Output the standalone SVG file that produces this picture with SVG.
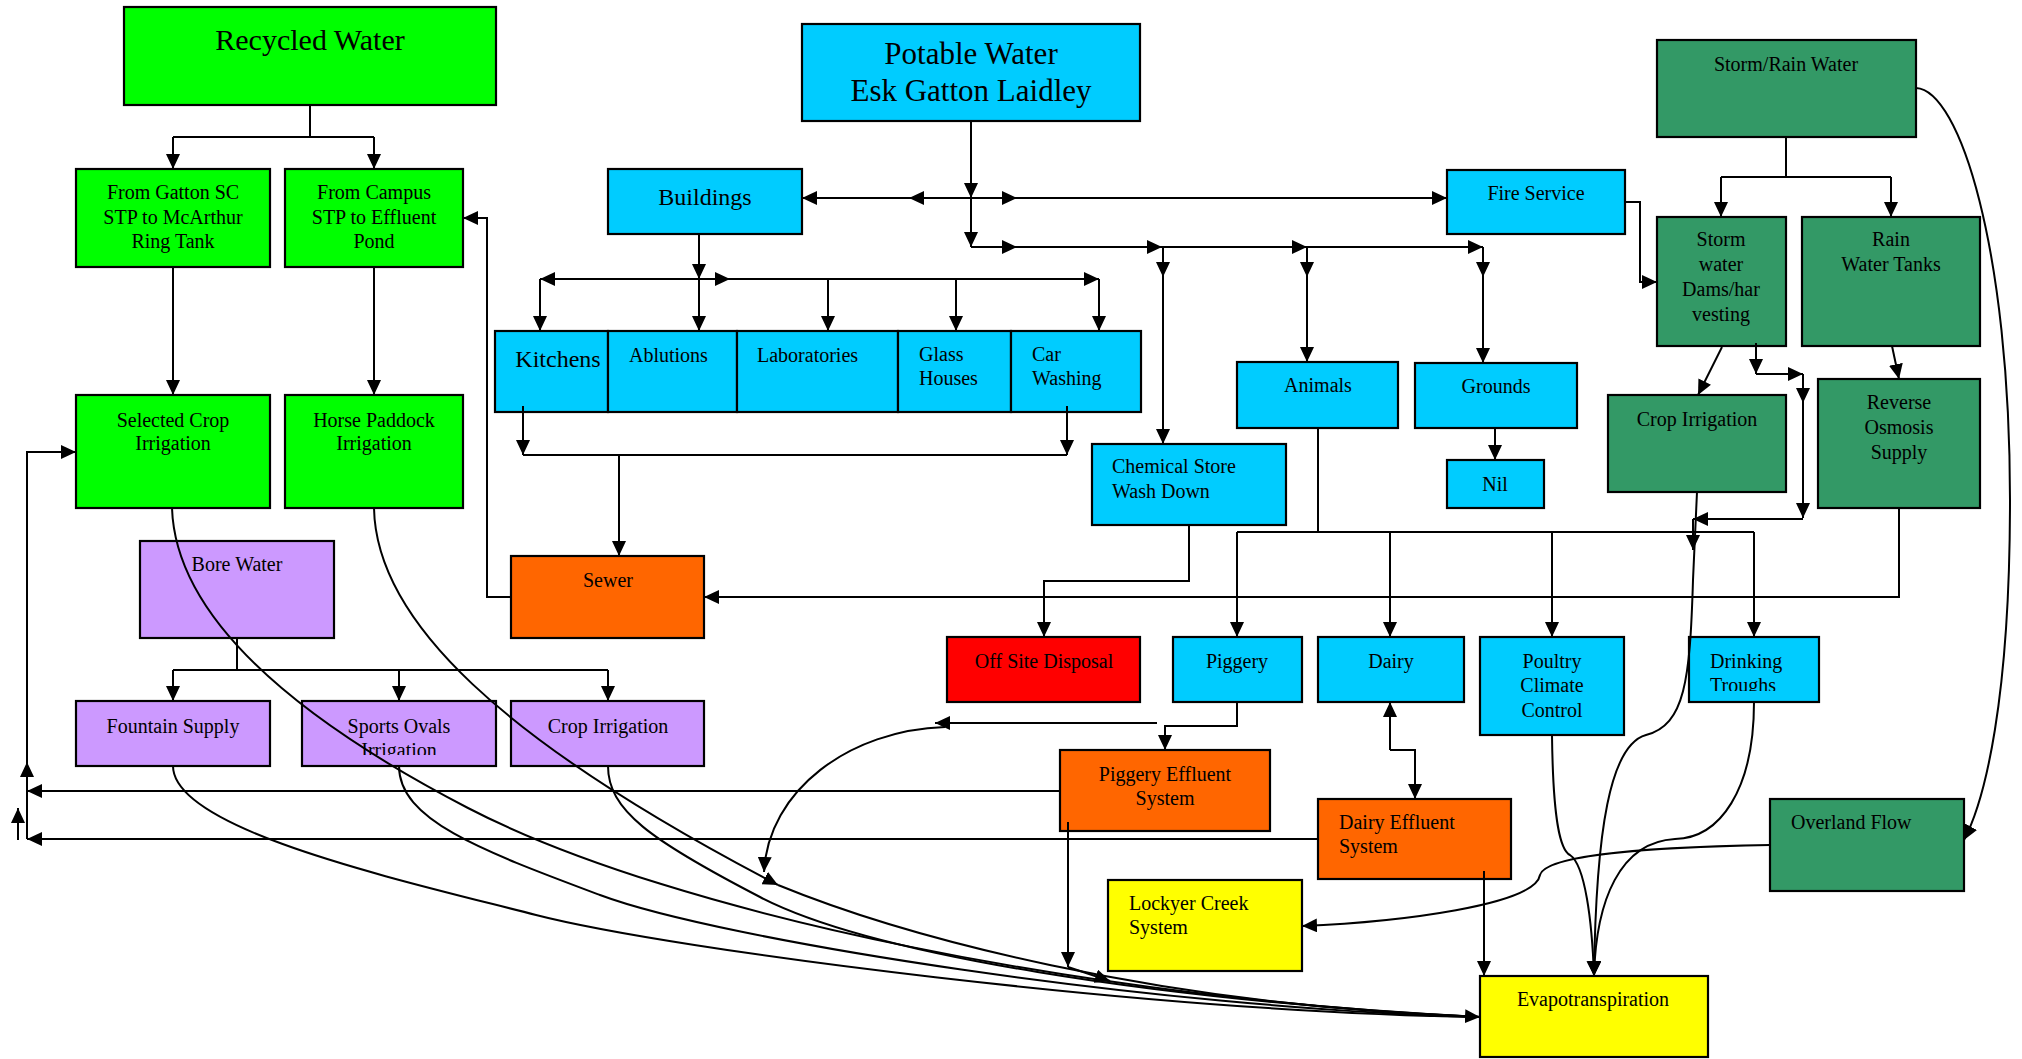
<svg xmlns="http://www.w3.org/2000/svg" width="2022" height="1059" viewBox="0 0 2022 1059">
<defs>
<style>
.n rect{stroke:#000;stroke-width:2.2}
.g{fill:#00ff00}.b{fill:#00ccff}.d{fill:#339966}.p{fill:#cc99ff}.o{fill:#ff6600}.r{fill:#ff0000}.y{fill:#ffff00}
text{font-family:"Liberation Serif","Times New Roman",serif;font-size:20px;fill:#000}
.m{text-anchor:middle}
.big{font-size:31px}
.mid{font-size:24px}
.c path{fill:none;stroke:#000;stroke-width:2}
.c path.a{marker-end:url(#ah)}
</style>
<marker id="ah" viewBox="0 0 15 14" refX="15" refY="7" markerWidth="15" markerHeight="14" markerUnits="userSpaceOnUse" orient="auto"><path d="M0,0 L15,7 L0,14 Z" fill="#000"/></marker>
<clipPath id="clipSports"><rect x="302" y="701" width="194" height="54"/></clipPath>
<clipPath id="clipTroughs"><rect x="1689" y="637" width="130" height="54"/></clipPath>
</defs>
<rect x="0" y="0" width="2022" height="1059" fill="#fff"/>

<g class="n">
<g id="recycled-water"><rect class="g" x="124" y="7" width="372" height="98"/><text class="m" x="310" y="50" style="font-size:30px">Recycled Water</text></g>
<g id="gatton-stp"><rect class="g" x="76" y="169" width="194" height="98"/><text class="m" x="173" y="199">From Gatton SC</text><text class="m" x="173" y="224">STP to McArthur</text><text class="m" x="173" y="248">Ring Tank</text></g>
<g id="campus-stp"><rect class="g" x="285" y="169" width="178" height="98"/><text class="m" x="374" y="199">From Campus</text><text class="m" x="374" y="224">STP to Effluent</text><text class="m" x="374" y="248">Pond</text></g>
<g id="selected-crop"><rect class="g" x="76" y="395" width="194" height="113"/><text class="m" x="173" y="427">Selected Crop</text><text class="m" x="173" y="450">Irrigation</text></g>
<g id="horse-paddock"><rect class="g" x="285" y="395" width="178" height="113"/><text class="m" x="374" y="427">Horse Paddock</text><text class="m" x="374" y="450">Irrigation</text></g>

<g id="potable-water"><rect class="b" x="802" y="24" width="338" height="97"/><text class="m big" x="971" y="64">Potable Water</text><text class="m big" x="971" y="101">Esk Gatton Laidley</text></g>
<g id="buildings"><rect class="b" x="608" y="169" width="194" height="65"/><text class="m mid" x="705" y="205">Buildings</text></g>
<g id="kitchens"><rect class="b" x="495" y="331" width="113" height="81"/><text class="m mid" x="558" y="367">Kitchens</text></g>
<g id="ablutions"><rect class="b" x="608" y="331" width="129" height="81"/><text x="629" y="362">Ablutions</text></g>
<g id="laboratories"><rect class="b" x="737" y="331" width="161" height="81"/><text x="757" y="362">Laboratories</text></g>
<g id="glass-houses"><rect class="b" x="898" y="331" width="113" height="81"/><text x="919" y="361">Glass</text><text x="919" y="385">Houses</text></g>
<g id="car-washing"><rect class="b" x="1011" y="331" width="130" height="81"/><text x="1032" y="361">Car</text><text x="1032" y="385">Washing</text></g>
<g id="fire-service"><rect class="b" x="1447" y="170" width="178" height="64"/><text class="m" x="1536" y="200">Fire Service</text></g>
<g id="chemical-store"><rect class="b" x="1092" y="444" width="194" height="81"/><text x="1112" y="473">Chemical Store</text><text x="1112" y="498">Wash Down</text></g>
<g id="animals"><rect class="b" x="1237" y="362" width="161" height="66"/><text class="m" x="1318" y="392">Animals</text></g>
<g id="grounds"><rect class="b" x="1415" y="363" width="162" height="65"/><text class="m" x="1496" y="393">Grounds</text></g>
<g id="nil"><rect class="b" x="1447" y="460" width="97" height="48"/><text class="m" x="1495" y="491">Nil</text></g>
<g id="piggery"><rect class="b" x="1173" y="637" width="129" height="65"/><text class="m" x="1237" y="668">Piggery</text></g>
<g id="dairy"><rect class="b" x="1318" y="637" width="146" height="65"/><text class="m" x="1391" y="668">Dairy</text></g>
<g id="poultry"><rect class="b" x="1480" y="637" width="144" height="98"/><text class="m" x="1552" y="668">Poultry</text><text class="m" x="1552" y="692">Climate</text><text class="m" x="1552" y="717">Control</text></g>
<g id="drinking-troughs"><rect class="b" x="1689" y="637" width="130" height="65"/><text x="1710" y="668">Drinking</text><text x="1710" y="692" clip-path="url(#clipTroughs)">Troughs</text></g>

<g id="storm-rain-water"><rect class="d" x="1657" y="40" width="259" height="97"/><text class="m" x="1786" y="71">Storm/Rain Water</text></g>
<g id="storm-water-dams"><rect class="d" x="1657" y="217" width="129" height="129"/><text class="m" x="1721" y="246">Storm</text><text class="m" x="1721" y="271">water</text><text class="m" x="1721" y="296">Dams/har</text><text class="m" x="1721" y="321">vesting</text></g>
<g id="rain-water-tanks"><rect class="d" x="1802" y="217" width="178" height="129"/><text class="m" x="1891" y="246">Rain</text><text class="m" x="1891" y="271">Water Tanks</text></g>
<g id="crop-irrigation-storm"><rect class="d" x="1608" y="395" width="178" height="97"/><text class="m" x="1697" y="426">Crop Irrigation</text></g>
<g id="reverse-osmosis"><rect class="d" x="1818" y="379" width="162" height="129"/><text class="m" x="1899" y="409">Reverse</text><text class="m" x="1899" y="434">Osmosis</text><text class="m" x="1899" y="459">Supply</text></g>
<g id="overland-flow"><rect class="d" x="1770" y="799" width="194" height="92"/><text x="1791" y="829">Overland Flow</text></g>

<g id="sewer"><rect class="o" x="511" y="556" width="193" height="82"/><text class="m" x="608" y="587">Sewer</text></g>
<g id="bore-water"><rect class="p" x="140" y="541" width="194" height="97"/><text class="m" x="237" y="571">Bore Water</text></g>
<g id="fountain-supply"><rect class="p" x="76" y="701" width="194" height="65"/><text class="m" x="173" y="733">Fountain Supply</text></g>
<g id="sports-ovals"><rect class="p" x="302" y="701" width="194" height="65"/><text class="m" x="399" y="733">Sports Ovals</text><text class="m" x="399" y="757" clip-path="url(#clipSports)">Irrigation</text></g>
<g id="crop-irrigation-bore"><rect class="p" x="511" y="701" width="193" height="65"/><text class="m" x="608" y="733">Crop Irrigation</text></g>
<g id="off-site-disposal"><rect class="r" x="947" y="637" width="193" height="65"/><text class="m" x="1044" y="668">Off Site Disposal</text></g>
<g id="piggery-effluent"><rect class="o" x="1060" y="750" width="210" height="81"/><text class="m" x="1165" y="781">Piggery Effluent</text><text class="m" x="1165" y="805">System</text></g>
<g id="dairy-effluent"><rect class="o" x="1318" y="799" width="193" height="80"/><text x="1339" y="829">Dairy Effluent</text><text x="1339" y="853">System</text></g>
<g id="lockyer-creek"><rect class="y" x="1108" y="880" width="194" height="91"/><text x="1129" y="910">Lockyer Creek</text><text x="1129" y="934">System</text></g>
<g id="evapotranspiration"><rect class="y" x="1480" y="976" width="228" height="81"/><text class="m" x="1593" y="1006">Evapotranspiration</text></g>
</g>

<g id="connectors" class="c">
<path d="M310,105 V137 M173,137 H374"/>
<path class="a" d="M173,137 V169"/><path class="a" d="M374,137 V169"/>
<path class="a" d="M173,267 V395"/><path class="a" d="M374,267 V395"/>
<path class="a" d="M511,597 H487 V218 H463"/>
<path class="a" d="M1060,791 H27"/>
<path class="a" d="M27,791 V762"/>
<path class="a" d="M27,762 V452 H76"/>
<path class="a" d="M1318,839 H27"/>
<path d="M27,839 V791"/>
<path class="a" d="M18,840 V808"/>
<path class="a" d="M971,121 V198"/>
<path class="a" d="M971,198 H909"/><path class="a" d="M909,198 H802"/>
<path class="a" d="M971,198 H1017"/><path class="a" d="M1017,198 H1447"/>
<path class="a" d="M971,198 V247"/>
<path class="a" d="M971,247 H1017"/><path class="a" d="M1017,247 H1162"/><path class="a" d="M1162,247 H1307"/><path class="a" d="M1307,247 H1483"/>
<path class="a" d="M1163,247 V277"/><path class="a" d="M1163,277 V444"/>
<path class="a" d="M1307,247 V277"/><path class="a" d="M1307,277 V362"/>
<path class="a" d="M1483,247 V277"/><path class="a" d="M1483,277 V363"/>
<path class="a" d="M699,234 V279"/><path class="a" d="M699,279 V331"/>
<path class="a" d="M699,279 H540"/><path class="a" d="M540,279 V331"/>
<path class="a" d="M699,279 H730"/><path class="a" d="M730,279 H1099"/><path class="a" d="M1099,279 V331"/>
<path class="a" d="M828,279 V331"/><path class="a" d="M956,279 V331"/>
<path class="a" d="M523,406 V455"/><path class="a" d="M1067,406 V455"/>
<path d="M523,455 H1067"/><path class="a" d="M619,455 V556"/>
<path class="a" d="M1625,202 H1640 V282 H1657"/>
<path d="M1786,137 V177 M1721,177 H1891"/>
<path class="a" d="M1721,177 V217"/><path class="a" d="M1891,177 V217"/>
<path class="a" d="M1892,346 L1899,379"/>
<path class="a" d="M1722,347 L1698,395"/>
<path class="a" d="M1756,343 V374"/><path class="a" d="M1756,374 H1803"/><path class="a" d="M1803,374 V403"/><path class="a" d="M1803,403 V518"/><path class="a" d="M1803,519 H1693"/><path class="a" d="M1693,519 V550"/>
<path class="a" d="M1697,492 L1693,580 C1690,680 1685,725 1646,735 C1610,745 1596,830 1594,976"/>
<path class="a" d="M1899,508 V597 H704"/>
<path class="a" d="M1495,428 V460"/>
<path d="M1318,428 V532 M1237,532 H1754"/>
<path class="a" d="M1237,532 V637"/><path class="a" d="M1390,532 V637"/><path class="a" d="M1552,532 V637"/><path class="a" d="M1754,532 V637"/>
<path class="a" d="M1189,525 V581 H1044 V637"/>
<path class="a" d="M1237,702 V726 H1165 V750"/>
<path class="a" d="M1157,723 H935"/>
<path class="a" d="M945,727 C850,730 768,790 764,872"/>
<path class="a" d="M1390,750 V702"/>
<path class="a" d="M1390,750 H1415 V799"/>
<path class="a" d="M1068,822 V967"/><path class="a" d="M1068,967 L1110,981"/>
<path class="a" d="M1484,871 V976"/>
<path class="a" d="M1552,735 C1553,820 1560,850 1570,855 C1585,865 1592,920 1594,976"/>
<path class="a" d="M1754,702 C1754,790 1720,838 1675,839 C1620,842 1596,900 1594,976"/>
<path class="a" d="M1770,845 C1650,847 1545,855 1540,875 C1535,905 1400,922 1302,926"/>
<path class="a" d="M1916,88 C1960,90 2010,250 2010,500 C2010,700 1985,800 1964,840"/>
<path d="M237,638 V670 M173,670 H608"/>
<path class="a" d="M173,670 V701"/><path class="a" d="M399,670 V701"/><path class="a" d="M608,670 V701"/>
<path d="M172,508 C175,600 260,700 468,808 S1100,1000 1480,1017"/>
<path class="a" d="M374,508 C376,620 500,740 778,885"/>
<path d="M778,885 C900,935 1150,1005 1480,1017"/>
<path d="M173,766 C173,830 400,880 536,915 S1150,1012 1480,1017"/>
<path d="M399,766 C399,820 480,850 600,895 S1150,1008 1480,1017"/>
<path class="a" d="M608,766 C608,810 650,840 760,897 S1150,1000 1480,1017"/>
</g>
</svg>
